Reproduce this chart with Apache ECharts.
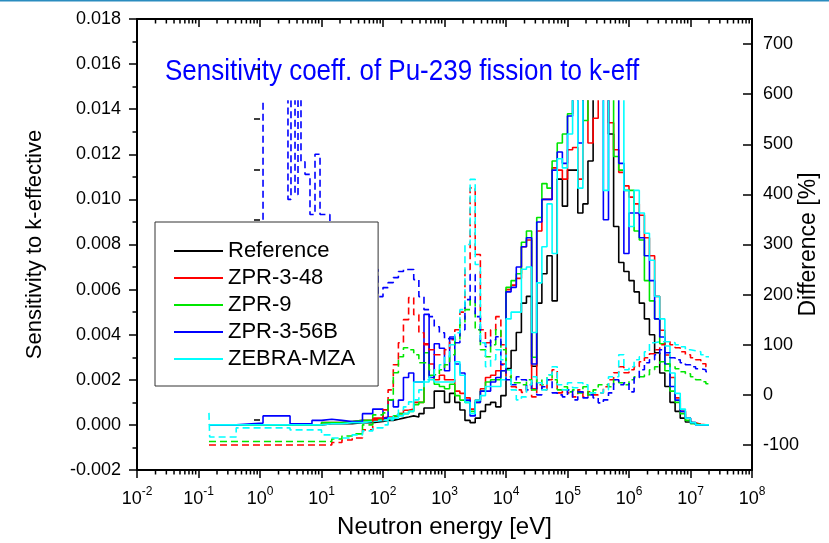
<!DOCTYPE html>
<html>
<head>
<meta charset="utf-8">
<script src="https://cdn.jsdelivr.net/npm/echarts@6/dist/echarts.min.js"></script>
<style>html,body{margin:0;padding:0;background:#fff}#chart{width:829px;height:543px}</style>
</head>
<body>
<div id="chart"></div>
<script>
// ---- group lower bounds (eV) ----
const energyLow = [0.148, 0.41, 1.12, 3.08, 7.0, 10, 14.7, 21.5, 31.6, 46.4, 68.1];
const energyHigh = [
  100, 121, 147, 178, 215, 261, 316, 383, 464, 562, 681, 825,
  1000, 1210, 1470, 1780, 2150, 2610, 3160, 3830, 4640, 5620, 6810, 8250,
  1.0e4, 1.21e4, 1.47e4, 1.78e4, 2.15e4, 2.61e4, 3.16e4, 3.83e4, 4.64e4, 5.62e4, 6.81e4, 8.25e4,
  1.0e5, 1.21e5, 1.47e5, 1.78e5, 2.15e5, 2.61e5, 3.16e5, 3.83e5, 4.64e5, 5.62e5, 6.81e5, 8.25e5,
  1.0e6, 1.21e6, 1.47e6, 1.78e6, 2.15e6, 2.61e6, 3.16e6, 3.83e6, 4.64e6, 5.62e6, 6.81e6, 8.25e6,
  1.0e7, 1.21e7, 1.47e7, 1.78e7
];
const energyTop = 2.0e7;

const legendNames = ['Reference', 'ZPR-3-48', 'ZPR-9', 'ZPR-3-56B', 'ZEBRA-MZA'];

// ---- sensitivities (left axis) ----
const refLow = [0, 0, 0, 0, 0, 0.00005, 0.00005, 0.00005, 0.0001, 0.0001, 0.00015];
const refHigh = [
  0.0002, 0.0002, 0.00025, 0.0003, 0.00035, 0.0004, 0.00035, 0.0005, 0.00075, 0.00075,
  0.0015, 0.0015, 0.001, 0.0014, 0.001, 0.00066, 0.0002, 0.0001, 0.0003, 0.0006,
  0.0009, 0.001, 0.0008, 0.0013, 0.0025, 0.0033, 0.0041, 0.0054, 0.0057, 0.0026,
  0.0054, 0.0067, 0.0075, 0.0055, 0.0109, 0.0097, 0.0113, 0.0113, 0.0094, 0.0098,
  0.0117, 0.015, 0.015, 0.015, 0.0129, 0.0088, 0.0072, 0.0068, 0.0064, 0.0059,
  0.0054, 0.0047, 0.004, 0.0032, 0.0023, 0.0017, 0.001, 0.0006, 0.0003, 0.00013,
  0.00005, 0.00002, 0, 0
];
const zpr348Low = [0, 0, 0, 0, 0, 0.0001, 0.0001, 0.00015, 0.0002, 0.0002, 0.0003];
const zpr348High = [
  0.00035, 0.00035, 0.0004, 0.0005, 0.00065, 0.0007, 0.001, 0.001, 0.0036, 0.0027,
  0.002, 0.0022, 0.002, 0.002, 0.0015, 0.0014, 0.0012, 0.0007, 0.0011, 0.0016,
  0.0021, 0.0022, 0.0024, 0.0027, 0.006, 0.0062, 0.0065, 0.0079, 0.0082, 0.0016,
  0.0086, 0.01, 0.01, 0.0114, 0.0113, 0.0109, 0.0122, 0.0123, 0.0109, 0.015,
  0.0125, 0.0136, 0.015, 0.015, 0.0134, 0.0122, 0.0112, 0.0106, 0.0101, 0.0098,
  0.0093, 0.0083, 0.0075, 0.0057, 0.0042, 0.0031, 0.0021, 0.0012, 0.0006, 0.0003,
  0.0001, 0.00003, 0, 0
];
const zpr9Low = [0, 0, 0, 0, 0, 0.0001, 0.0001, 0.00015, 0.0002, 0.0002, 0.00025];
const zpr9High = [
  0.0003, 0.0003, 0.0004, 0.0005, 0.0005, 0.0006, 0.0009, 0.001, 0.0032, 0.0022,
  0.0018, 0.0017, 0.0016, 0.0018, 0.0013, 0.0011, 0.001, 0.0006, 0.001, 0.0015,
  0.0019, 0.002, 0.002, 0.0024, 0.0061, 0.0064, 0.0067, 0.0081, 0.0086, 0.003,
  0.0092, 0.0107, 0.0105, 0.0117, 0.0125, 0.0129, 0.0138, 0.015, 0.015, 0.0135,
  0.015, 0.015, 0.015, 0.015, 0.015, 0.0119, 0.0113, 0.0104, 0.0104, 0.0086,
  0.0082, 0.0064, 0.0055, 0.0047, 0.0036, 0.0024, 0.0015, 0.001, 0.0005, 0.0002,
  0.00005, 0, 0, 0
];
const zpr356bLow = [0, 0.00008, 0.0004, 0.00005, 0.0002, 0.00025, 0.0002, 0.00015, 0.00015, 0.0005, 0.0007];
const zpr356bHigh = [
  0.0003, 0.0011, 0.0008, 0.0011, 0.0021, 0.0023, 0.0019, 0.0019, 0.0049, 0.0021,
  0.0036, 0.0034, 0.0024, 0.0039, 0.0027, 0.0023, 0.0011, 0.0004, 0.001, 0.0015,
  0.0015, 0.0019, 0.0021, 0.0024, 0.0059, 0.0061, 0.007, 0.0079, 0.0083, 0.0027,
  0.009, 0.01, 0.01, 0.0113, 0.0121, 0.0116, 0.0137, 0.015, 0.0125, 0.015,
  0.015, 0.015, 0.015, 0.0091, 0.015, 0.015, 0.0116, 0.0076, 0.0094, 0.0094,
  0.0083, 0.0075, 0.0064, 0.0047, 0.0039, 0.0027, 0.0017, 0.0011, 0.0006, 0.0003,
  0.0001, 0, 0, 0
];
const zebraLow = [0, 0, 0, 0, 0, 0.00005, 0.00005, 0.0001, 0.0001, 0.00015, 0.0002];
const zebraHigh = [
  0.0002, 0.0003, 0.0003, 0.0004, 0.0005, 0.0006, 0.0019, 0.0019, 0.0019, 0.002,
  0.0019, 0.0019, 0.0019, 0.0019, 0.0028, 0.0022, 0.001, 0.0005, 0.0011, 0.0013,
  0.0017, 0.0017, 0.0017, 0.002, 0.0047, 0.005, 0.005, 0.0069, 0.007, 0.0041,
  0.0063, 0.0079, 0.0098, 0.0076, 0.0118, 0.0114, 0.0129, 0.015, 0.0105, 0.015,
  0.015, 0.015, 0.015, 0.0104, 0.015, 0.015, 0.015, 0.0104, 0.0088, 0.0104,
  0.0094, 0.0085, 0.0073, 0.0057, 0.0047, 0.0035, 0.0023, 0.0014, 0.0007, 0.0003,
  0.0001, 0, 0, 0
];

// ---- differences in % (right axis) ----
const diff348Low = [-100, -100, -100, -100, -100, -100, -95, -90, -86, -70, -50];
const diff348High = [
  -30, 10, 60, 104, 150, 194, 160, 124, 100, 90,
  80, 80, 90, 110, 130, 165, 250, 413, 280, 130,
  104, 130, 156, 100, 36, 16, 10, 5, 20, -4,
  20, 10, 30, 50, 4, 10, 4, -4, 10, -4,
  6, 0, 4, 16, 30, 44, 56, 44, 50, 56,
  66, 74, 82, 90, 100, 106, 100, 94, 86, 80,
  74, 70, 62, 56
];
const diff9Low = [-93, -93, -93, -93, -93, -93, -88, -82, -78, -60, -40];
const diff9High = [
  -36, -10, 44, 76, 94, 90, 80, 64, 64, 50,
  40, 50, 60, 80, 110, 144, 170, 190, 130, 90,
  76, 100, 130, 90, 50, 24, 24, 20, 30, 10,
  30, 20, 40, 30, 10, 16, 6, 10, 4, 16,
  0, 10, 20, 20, 16, 30, 24, 20, 30, 36,
  36, 40, 50, 56, 66, 62, 56, 52, 46, 42,
  36, 30, 26, 22
];
const diff356bLowE = [0.148, 1.12, 2.85, 3.19, 3.71, 4.15, 4.64, 5.39, 6.5, 7.84, 9.46, 13.7, 83];
const diff356bLow = [150, 700, 390, 700, 400, 700, 465, 440, 360, 480, 360, 250, 196];
const diff356bHigh = [
  214, 224, 234, 246, 250, 250, 230, 196, 170, 156,
  136, 124, 112, 112, 104, 130, 190, 240, 156, 104,
  96, 110, 116, 60, 30, 20, 36, 30, 10, 24,
  0, 16, 30, 4, 0, -4, 10, -10, 6, -6,
  0, -6, -16, -10, 4, 30, 20, 24, 6, 34,
  50, 64, 70, 80, 90, 84, 74, 70, 64, 60,
  56, 52, 50, 46
];
const diffZebraLowE = [0.148, 0.152, 0.41, 1.12, 3.08, 7.0, 10, 14.7, 21.5, 31.6, 46.4, 68.1];
const diffZebraLow = [-36, -84, -66, -66, -70, -70, -80, -86, -86, -80, -72, -66];
const diffZebraHigh = [
  -60, -50, -40, -30, -24, -14, -10, 10, 30, 36,
  50, 60, 76, 100, 124, 170, 300, 430, 260, 104,
  56, 70, 90, 70, 50, 10, -10, -4, 20, 36,
  24, 10, 40, 56, 20, 10, 24, 14, 24, 20,
  4, 4, 4, 10, 36, 36, 80, 50, 56, 70,
  76, 86, 104, 106, 106, 106, 104, 100, 96, 90,
  88, 86, 80, 76
];

// axis decorations
const decadeExponents = [-2, -1, 0, 1, 2, 3, 4, 5, 6, 7, 8];
const rightTickLabels = [-100, 0, 100, 200, 300, 400, 500, 600, 700];
const rightMinorTicks = [-150, -50, 50, 150, 250, 350, 450, 550, 650, 750];

// ---- build step data (x in log10(E) on a linear axis) ----
const FONT = '"Liberation Sans", Arial, Helvetica, sans-serif';
function steps(E, V) {
  const d = V.map((v, i) => [Math.log10(E[i]), v]);
  d.push([Math.log10(energyTop), V[V.length - 1]]);
  return d;
}
const gridE = energyLow.concat(energyHigh);

const solidDefs = [
  ['Reference', '#000000', refLow.concat(refHigh)],
  ['ZPR-3-48', '#ff0000', zpr348Low.concat(zpr348High)],
  ['ZPR-9', '#00e600', zpr9Low.concat(zpr9High)],
  ['ZPR-3-56B', '#0000ff', zpr356bLow.concat(zpr356bHigh)],
  ['ZEBRA-MZA', '#00ffff', zebraLow.concat(zebraHigh)]
];
const dashDefs = [
  ['ZPR-3-48 diff', '#ff0000', gridE, diff348Low.concat(diff348High)],
  ['ZPR-9 diff', '#00e600', gridE, diff9Low.concat(diff9High)],
  ['ZPR-3-56B diff', '#0000ff', diff356bLowE.concat(energyHigh), diff356bLow.concat(diff356bHigh)],
  ['ZEBRA-MZA diff', '#00ffff', diffZebraLowE.concat(energyHigh), diffZebraLow.concat(diffZebraHigh)]
];

const series = [];
solidDefs.forEach(([name, color, vals]) => {
  series.push({
    name, type: 'line', step: 'end', xAxisIndex: 2, yAxisIndex: 2,
    data: steps(gridE, vals), showSymbol: false, symbol: 'none',
    lineStyle: { color, width: 1.6 }, itemStyle: { color }, animation: false
  });
});
dashDefs.forEach(([name, color, E, vals]) => {
  series.push({
    name, type: 'line', step: 'end', xAxisIndex: 2, yAxisIndex: 3,
    data: steps(E, vals), showSymbol: false, symbol: 'none',
    lineStyle: { color, width: 1.6, type: [7, 4] }, itemStyle: { color }, animation: false
  });
});

// minor ticks of the logarithmic energy axis (2..9 x 10^k)
const minorTickX = [];
for (let k = -2; k < 8; k++) for (let m = 2; m < 10; m++) minorTickX.push(Math.log10(m * Math.pow(10, k)));
series.push({
  type: 'custom', xAxisIndex: 0, yAxisIndex: 0, silent: true, clip: false, animation: false,
  data: minorTickX.map(x => [x, 0]), encode: { x: 0, y: 1 },
  renderItem: function (params, api) {
    const x = api.value(0);
    const pb = api.coord([x, -0.002]);
    const pt = api.coord([x, 0.018]);
    return { type: 'group', children: [
      { type: 'line', shape: { x1: pb[0], y1: pb[1], x2: pb[0], y2: pb[1] + 4.5 }, style: { stroke: '#000', lineWidth: 1.5 } },
      { type: 'line', shape: { x1: pt[0], y1: pt[1], x2: pt[0], y2: pt[1] + 4.5 }, style: { stroke: '#000', lineWidth: 1.5 } }
    ] };
  }
});

const axisLineStyle = { color: '#000', width: 2 };
const tickStyle = { color: '#000', width: 1.5 };
const gridBox = { left: 137, right: 77, top: 19, bottom: 73, containLabel: false, outerBoundsMode: 'none' };

const option = {
  backgroundColor: '#fff',
  animation: false,
  textStyle: { fontFamily: FONT },
  grid: [
    Object.assign({}, gridBox),
    Object.assign({}, gridBox, { top: 101 }),
    Object.assign({}, gridBox)
  ],
  xAxis: [
    {
      gridIndex: 0, type: 'value', min: -2, max: 8, interval: 1, position: 'bottom',
      axisLine: { show: true, onZero: false, lineStyle: axisLineStyle },
      axisTick: { show: true, length: 8, lineStyle: tickStyle, customValues: decadeExponents },
      splitLine: { show: false },
      axisLabel: {
        margin: 16, customValues: decadeExponents,
        formatter: function (v) { return '{b|10}{s|' + Math.round(v) + '}'; },
        rich: {
          b: { fontSize: 18, fontFamily: FONT, color: '#000', lineHeight: 22, verticalAlign: 'bottom' },
          s: { fontSize: 12, fontFamily: FONT, color: '#000', verticalAlign: 'top' }
        }
      },
      name: 'Neutron energy [eV]', nameLocation: 'middle', nameGap: 45, nameMoveOverlap: false,
      nameTextStyle: { fontSize: 24, fontFamily: FONT, color: '#000', lineHeight: 24 }
    },
    {
      gridIndex: 0, type: 'value', min: -2, max: 8, interval: 1, position: 'top',
      axisLine: { show: true, onZero: false, lineStyle: axisLineStyle },
      axisTick: { show: true, inside: true, length: 8, lineStyle: tickStyle, customValues: decadeExponents },
      axisLabel: { show: false }, splitLine: { show: false }
    },
    { gridIndex: 1, type: 'value', min: -2, max: 8, show: false },
    { gridIndex: 2, type: 'value', min: -2, max: 8, show: false }
  ],
  yAxis: [
    {
      gridIndex: 0, type: 'value', min: -0.002, max: 0.018, interval: 0.002, position: 'left',
      axisLine: { show: true, onZero: false, lineStyle: axisLineStyle },
      axisTick: { show: true, length: 8, lineStyle: tickStyle },
      minorTick: { show: true, splitNumber: 2, length: 4.5, lineStyle: tickStyle },
      splitLine: { show: false }, minorSplitLine: { show: false },
      axisLabel: { margin: 16, fontSize: 18, fontFamily: FONT, color: '#000', formatter: v => v.toFixed(3) },
      name: 'Sensitivity to k-effective', nameLocation: 'middle', nameGap: 91, nameMoveOverlap: false,
      nameTextStyle: { fontSize: 22, fontFamily: FONT, color: '#000', lineHeight: 22 }
    },
    {
      gridIndex: 0, type: 'value', min: -150, max: 750, position: 'right',
      axisLine: { show: true, onZero: false, lineStyle: axisLineStyle },
      axisTick: { show: true, inside: true, length: 9, lineStyle: tickStyle, customValues: rightTickLabels },
      axisLabel: { margin: 11, fontSize: 18, fontFamily: FONT, color: '#000', customValues: rightTickLabels },
      splitLine: { show: false },
      name: 'Difference [%]', nameLocation: 'middle', nameGap: 45, nameMoveOverlap: false,
      nameTextStyle: { fontSize: 23, fontFamily: FONT, color: '#000', lineHeight: 23 }
    },
    { gridIndex: 1, type: 'value', min: -0.002, max: 0.014364, show: false },
    { gridIndex: 1, type: 'value', min: -150, max: 586.4, show: false },
    {
      gridIndex: 2, type: 'value', min: -150, max: 750, position: 'right',
      axisLine: { show: false },
      axisTick: { show: true, inside: true, length: 6, lineStyle: tickStyle, customValues: rightMinorTicks },
      axisLabel: { show: false }, splitLine: { show: false }
    }
  ],
  legend: {
    data: legendNames, orient: 'vertical', left: 155, top: 222,
    padding: [15.5, 23, 13.5, 19], itemGap: 0, itemWidth: 49, itemHeight: 2, icon: 'rect',
    backgroundColor: '#fff', borderColor: '#333', borderWidth: 1, selectedMode: false,
    textStyle: { fontSize: 22, lineHeight: 27, fontFamily: FONT, color: '#000' }
  },
  graphic: [
    { type: 'rect', shape: { x: 0, y: 0, width: 829, height: 1.5 }, style: { fill: '#2a8cbf' }, silent: true },
    {
      type: 'text', x: 165, y: 72, scaleX: 0.866, silent: true,
      style: {
        text: 'Sensitivity coeff. of Pu-239 fission to k-eff',
        font: '30px "Liberation Sans", Arial, sans-serif', fill: '#0000ff',
        textVerticalAlign: 'middle', verticalAlign: 'middle'
      }
    }
  ],
  series
};

const chart = echarts.init(document.getElementById('chart'), null, { renderer: 'canvas' });
chart.setOption(option);
</script>
</body>
</html>
